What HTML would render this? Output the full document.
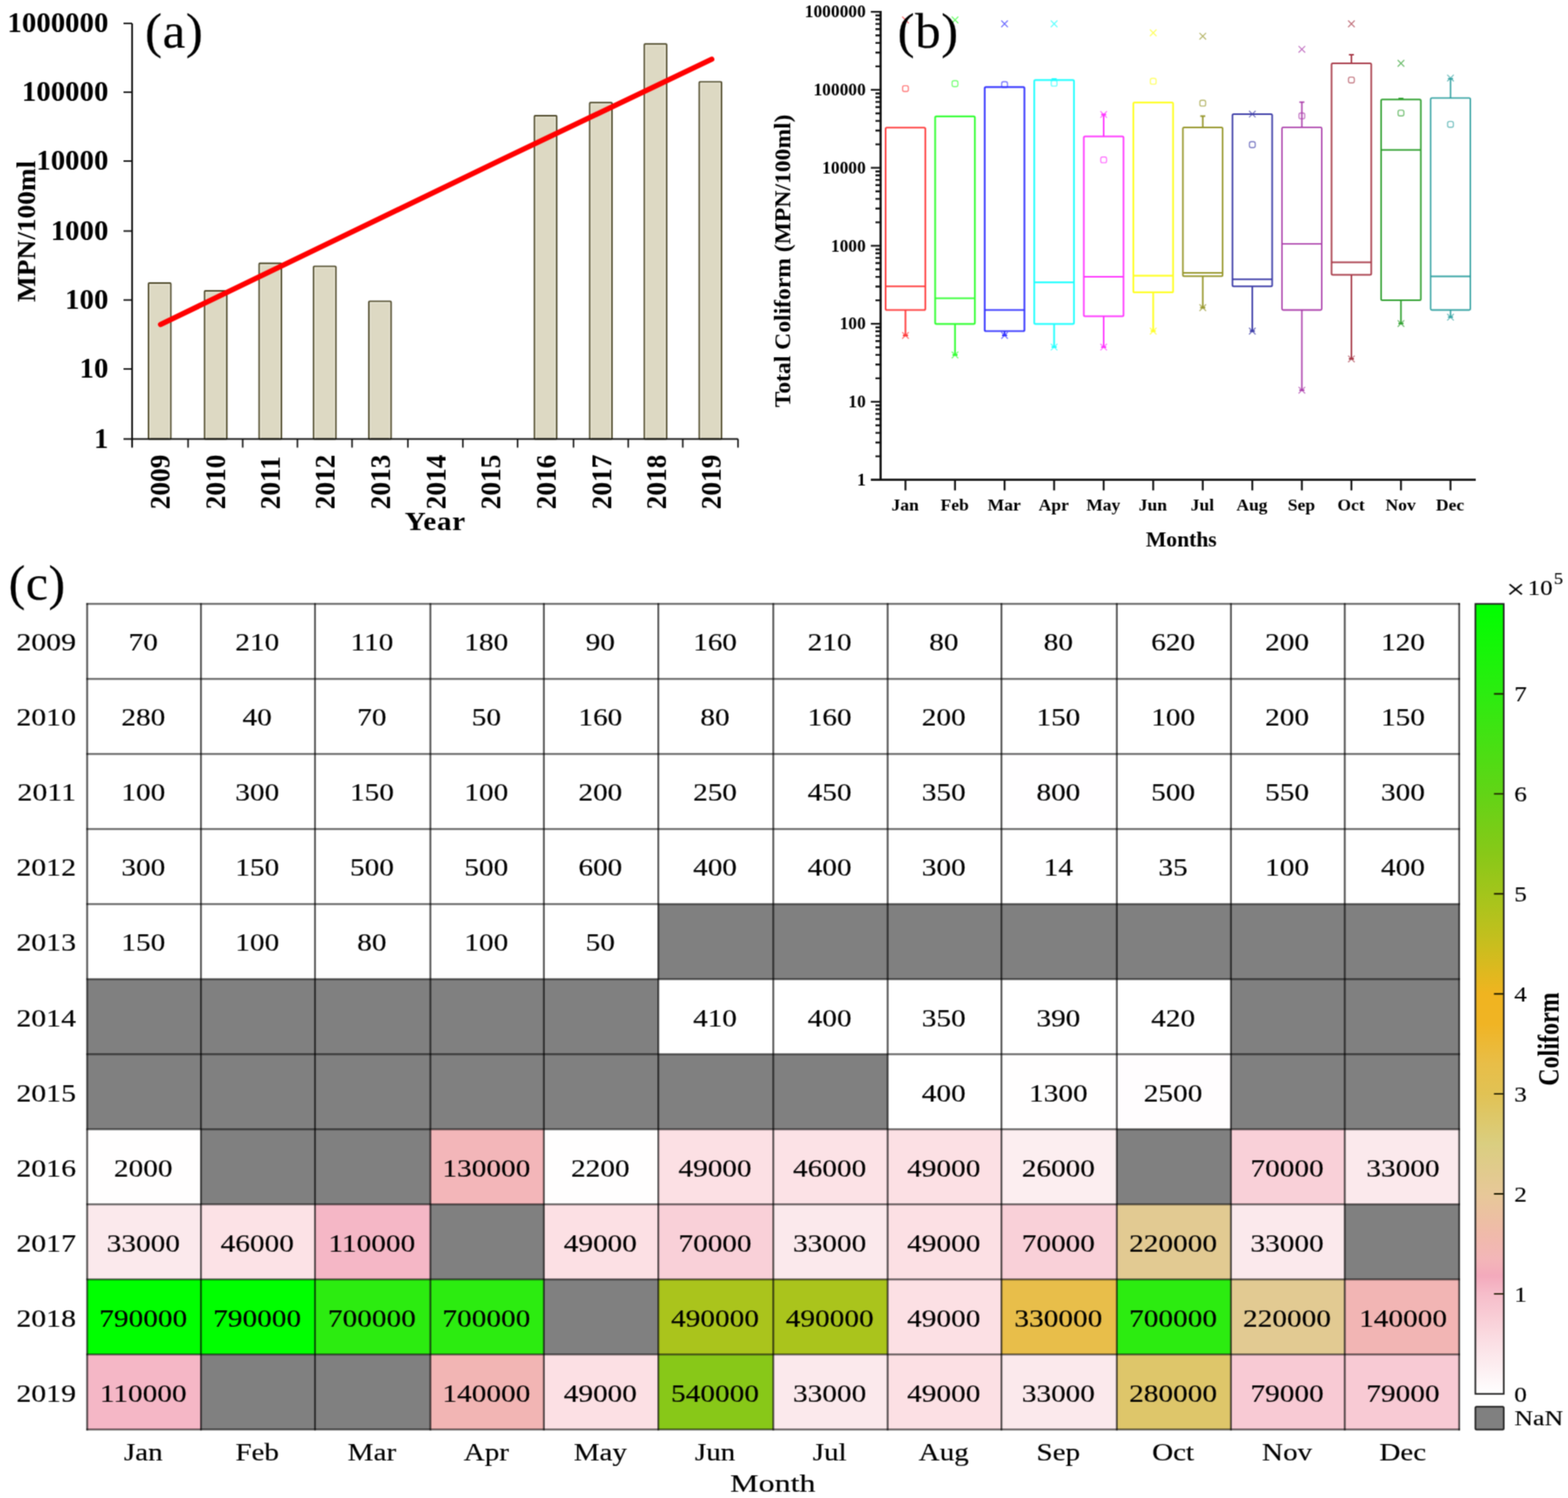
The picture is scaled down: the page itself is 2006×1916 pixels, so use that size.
<!DOCTYPE html>
<html lang="en">
<head>
<meta charset="utf-8">
<title>Total coliform figure</title>
<style>
html,body{margin:0;padding:0;background:#fff;}
body{width:2006px;height:1916px;overflow:hidden;}
svg{display:block;font-family:'Liberation Serif', 'DejaVu Serif', serif;}
</style>
</head>
<body>
<svg width="2006" height="1916" viewBox="0 0 2006 1916">
<defs><filter id="soft" x="0" y="0" width="2006" height="1916" filterUnits="userSpaceOnUse" color-interpolation-filters="sRGB"><feConvolveMatrix order="3" kernelMatrix="0.0400 0.1200 0.0400 0.1200 0.3600 0.1200 0.0400 0.1200 0.0400" edgeMode="duplicate" preserveAlpha="true"/></filter></defs>
<rect x="0" y="0" width="2006" height="1916" fill="#ffffff"/>
<g filter="url(#soft)">
<rect x="0" y="0" width="2006" height="1916" fill="#ffffff"/>
<g id="panel-a">
<rect x="190.00" y="362.00" width="28.50" height="199.50" rx="1" fill="#ddd9c3" stroke="#4d4828" stroke-width="1.9"/>
<rect x="191.80" y="363.80" width="24.90" height="197.70" fill="none" stroke="#ebe8d8" stroke-width="1.2"/>
<rect x="261.70" y="372.00" width="28.50" height="189.50" rx="1" fill="#ddd9c3" stroke="#4d4828" stroke-width="1.9"/>
<rect x="263.50" y="373.80" width="24.90" height="187.70" fill="none" stroke="#ebe8d8" stroke-width="1.2"/>
<rect x="331.55" y="336.80" width="28.50" height="224.70" rx="1" fill="#ddd9c3" stroke="#4d4828" stroke-width="1.9"/>
<rect x="333.35" y="338.60" width="24.90" height="222.90" fill="none" stroke="#ebe8d8" stroke-width="1.2"/>
<rect x="401.20" y="340.60" width="28.50" height="220.90" rx="1" fill="#ddd9c3" stroke="#4d4828" stroke-width="1.9"/>
<rect x="403.00" y="342.40" width="24.90" height="219.10" fill="none" stroke="#ebe8d8" stroke-width="1.2"/>
<rect x="471.85" y="385.40" width="28.50" height="176.10" rx="1" fill="#ddd9c3" stroke="#4d4828" stroke-width="1.9"/>
<rect x="473.65" y="387.20" width="24.90" height="174.30" fill="none" stroke="#ebe8d8" stroke-width="1.2"/>
<rect x="683.70" y="148.00" width="28.50" height="413.50" rx="1" fill="#ddd9c3" stroke="#4d4828" stroke-width="1.9"/>
<rect x="685.50" y="149.80" width="24.90" height="411.70" fill="none" stroke="#ebe8d8" stroke-width="1.2"/>
<rect x="754.45" y="131.30" width="28.50" height="430.20" rx="1" fill="#ddd9c3" stroke="#4d4828" stroke-width="1.9"/>
<rect x="756.25" y="133.10" width="24.90" height="428.40" fill="none" stroke="#ebe8d8" stroke-width="1.2"/>
<rect x="824.35" y="56.30" width="28.50" height="505.20" rx="1" fill="#ddd9c3" stroke="#4d4828" stroke-width="1.9"/>
<rect x="826.15" y="58.10" width="24.90" height="503.40" fill="none" stroke="#ebe8d8" stroke-width="1.2"/>
<rect x="894.60" y="104.60" width="28.50" height="456.90" rx="1" fill="#ddd9c3" stroke="#4d4828" stroke-width="1.9"/>
<rect x="896.40" y="106.40" width="24.90" height="455.10" fill="none" stroke="#ebe8d8" stroke-width="1.2"/>
<path d="M169.00 30.00 V572.50" stroke="#0c0c0c" stroke-width="2.2" fill="none"/>
<path d="M158.00 561.50 H944.20" stroke="#0c0c0c" stroke-width="2.2" fill="none"/>
<path d="M158.00 29.90 H169.00" stroke="#0c0c0c" stroke-width="1.9" fill="none"/>
<text transform="translate(138.60,41.30) scale(1.0240,1)" font-size="36" font-weight="bold" text-anchor="end" fill="#000">1000000</text>
<path d="M158.00 117.90 H169.00" stroke="#0c0c0c" stroke-width="1.9" fill="none"/>
<text transform="translate(138.60,129.30) scale(1.0240,1)" font-size="36" font-weight="bold" text-anchor="end" fill="#000">100000</text>
<path d="M158.00 206.00 H169.00" stroke="#0c0c0c" stroke-width="1.9" fill="none"/>
<text transform="translate(138.60,217.40) scale(1.0240,1)" font-size="36" font-weight="bold" text-anchor="end" fill="#000">10000</text>
<path d="M158.00 295.50 H169.00" stroke="#0c0c0c" stroke-width="1.9" fill="none"/>
<text transform="translate(138.60,306.90) scale(1.0240,1)" font-size="36" font-weight="bold" text-anchor="end" fill="#000">1000</text>
<path d="M158.00 383.70 H169.00" stroke="#0c0c0c" stroke-width="1.9" fill="none"/>
<text transform="translate(138.60,395.10) scale(1.0240,1)" font-size="36" font-weight="bold" text-anchor="end" fill="#000">100</text>
<path d="M158.00 471.90 H169.00" stroke="#0c0c0c" stroke-width="1.9" fill="none"/>
<text transform="translate(138.60,483.30) scale(1.0240,1)" font-size="36" font-weight="bold" text-anchor="end" fill="#000">10</text>
<text transform="translate(138.60,572.90) scale(1.0240,1)" font-size="36" font-weight="bold" text-anchor="end" fill="#000">1</text>
<path d="M240.60 561.50 V572.50" stroke="#0c0c0c" stroke-width="1.9" fill="none"/>
<path d="M310.50 561.50 V572.50" stroke="#0c0c0c" stroke-width="1.9" fill="none"/>
<path d="M380.50 561.50 V572.50" stroke="#0c0c0c" stroke-width="1.9" fill="none"/>
<path d="M450.40 561.50 V572.50" stroke="#0c0c0c" stroke-width="1.9" fill="none"/>
<path d="M521.80 561.50 V572.50" stroke="#0c0c0c" stroke-width="1.9" fill="none"/>
<path d="M592.20 561.50 V572.50" stroke="#0c0c0c" stroke-width="1.9" fill="none"/>
<path d="M662.20 561.50 V572.50" stroke="#0c0c0c" stroke-width="1.9" fill="none"/>
<path d="M733.70 561.50 V572.50" stroke="#0c0c0c" stroke-width="1.9" fill="none"/>
<path d="M803.70 561.50 V572.50" stroke="#0c0c0c" stroke-width="1.9" fill="none"/>
<path d="M873.50 561.50 V572.50" stroke="#0c0c0c" stroke-width="1.9" fill="none"/>
<path d="M944.20 561.50 V572.50" stroke="#0c0c0c" stroke-width="1.9" fill="none"/>
<text transform="translate(216.55,651.60) rotate(-90)" font-size="35" font-weight="bold" text-anchor="start" fill="#000">2009</text>
<text transform="translate(288.38,651.60) rotate(-90)" font-size="35" font-weight="bold" text-anchor="start" fill="#000">2010</text>
<text transform="translate(358.36,651.60) rotate(-90)" font-size="35" font-weight="bold" text-anchor="start" fill="#000">2011</text>
<text transform="translate(428.14,651.60) rotate(-90)" font-size="35" font-weight="bold" text-anchor="start" fill="#000">2012</text>
<text transform="translate(498.92,651.60) rotate(-90)" font-size="35" font-weight="bold" text-anchor="start" fill="#000">2013</text>
<text transform="translate(569.95,651.60) rotate(-90)" font-size="35" font-weight="bold" text-anchor="start" fill="#000">2014</text>
<text transform="translate(640.28,651.60) rotate(-90)" font-size="35" font-weight="bold" text-anchor="start" fill="#000">2015</text>
<text transform="translate(711.16,651.60) rotate(-90)" font-size="35" font-weight="bold" text-anchor="start" fill="#000">2016</text>
<text transform="translate(782.04,651.60) rotate(-90)" font-size="35" font-weight="bold" text-anchor="start" fill="#000">2017</text>
<text transform="translate(852.07,651.60) rotate(-90)" font-size="35" font-weight="bold" text-anchor="start" fill="#000">2018</text>
<text transform="translate(922.45,651.60) rotate(-90)" font-size="35" font-weight="bold" text-anchor="start" fill="#000">2019</text>
<path d="M205.5 415 L420 311.3 L640 205 L910.5 75.8" stroke="#ff0000" stroke-width="6.8" stroke-linecap="round" stroke-linejoin="round" fill="none"/>
<text transform="translate(556.80,677.60) scale(1.0900,1)" font-size="34.3" font-weight="bold" text-anchor="middle" fill="#000" letter-spacing="0.8">Year</text>
<text transform="translate(44.90,295.90) scale(0.9700,1) rotate(-90)" font-size="35" font-weight="bold" text-anchor="middle" fill="#000">MPN/100ml</text>
<text transform="translate(185.60,60.60) scale(1.0300,1)" font-size="63.5" text-anchor="start" fill="#000" stroke="#000" stroke-width="0.2" letter-spacing="0.6">(a)</text>
</g>
<g id="panel-b">
<g stroke="#ff3b3b" fill="none" stroke-width="2.1">
<rect x="1133.00" y="163.20" width="50.80" height="233.30" rx="1.5"/>
<path d="M1133.00 366.20 H1183.80"/>
<path d="M1158.40 396.50 V429.10 M1155.20 429.10 H1161.60"/>
<path d="M1154.20 21.30 L1162.60 29.70 M1154.20 29.70 L1162.60 21.30" stroke-width="1.3" stroke-opacity="0.75"/>
<path d="M1154.20 424.90 L1162.60 433.30 M1154.20 433.30 L1162.60 424.90" stroke-width="1.3" stroke-opacity="0.75"/>
<rect x="1154.70" y="109.60" width="7.4" height="7.4" rx="2.2" stroke-width="1.4" stroke-opacity="0.7"/>
</g>
<g stroke="#33ff33" fill="none" stroke-width="2.2">
<rect x="1196.39" y="148.90" width="50.80" height="265.40" rx="1.5"/>
<path d="M1196.39 381.50 H1247.19"/>
<path d="M1221.79 414.30 V454.00 M1218.59 454.00 H1224.99"/>
<path d="M1217.59 21.30 L1225.99 29.70 M1217.59 29.70 L1225.99 21.30" stroke-width="1.3" stroke-opacity="0.75"/>
<path d="M1217.59 449.80 L1225.99 458.20 M1217.59 458.20 L1225.99 449.80" stroke-width="1.3" stroke-opacity="0.75"/>
<rect x="1218.09" y="103.30" width="7.4" height="7.4" rx="2.2" stroke-width="1.4" stroke-opacity="0.7"/>
</g>
<g stroke="#3535ff" fill="none" stroke-width="2.2">
<rect x="1259.78" y="111.30" width="50.80" height="312.20" rx="1.5"/>
<path d="M1259.78 396.50 H1310.58"/>
<path d="M1285.18 423.50 V429.00 M1281.98 429.00 H1288.38"/>
<path d="M1280.98 26.30 L1289.38 34.70 M1280.98 34.70 L1289.38 26.30" stroke-width="1.3" stroke-opacity="0.75"/>
<path d="M1280.98 424.80 L1289.38 433.20 M1280.98 433.20 L1289.38 424.80" stroke-width="1.3" stroke-opacity="0.75"/>
<rect x="1281.48" y="104.50" width="7.4" height="7.4" rx="2.2" stroke-width="1.4" stroke-opacity="0.7"/>
</g>
<g stroke="#22ffff" fill="none" stroke-width="2.2">
<rect x="1323.17" y="102.30" width="50.80" height="312.00" rx="1.5"/>
<path d="M1323.17 361.10 H1373.97"/>
<path d="M1348.57 414.30 V443.90 M1345.37 443.90 H1351.77"/>
<path d="M1348.57 102.30 V101.00 M1345.37 101.00 H1351.77"/>
<path d="M1344.37 26.30 L1352.77 34.70 M1344.37 34.70 L1352.77 26.30" stroke-width="1.3" stroke-opacity="0.75"/>
<path d="M1344.37 439.70 L1352.77 448.10 M1344.37 448.10 L1352.77 439.70" stroke-width="1.3" stroke-opacity="0.75"/>
<rect x="1344.87" y="102.70" width="7.4" height="7.4" rx="2.2" stroke-width="1.4" stroke-opacity="0.7"/>
</g>
<g stroke="#ff33ff" fill="none" stroke-width="2.0">
<rect x="1386.56" y="174.40" width="50.80" height="230.00" rx="1.5"/>
<path d="M1386.56 354.00 H1437.36"/>
<path d="M1411.96 404.40 V443.90 M1408.76 443.90 H1415.16"/>
<path d="M1411.96 174.40 V146.40 M1408.76 146.40 H1415.16"/>
<path d="M1407.76 142.20 L1416.16 150.60 M1407.76 150.60 L1416.16 142.20" stroke-width="1.3" stroke-opacity="0.75"/>
<path d="M1407.76 439.70 L1416.16 448.10 M1407.76 448.10 L1416.16 439.70" stroke-width="1.3" stroke-opacity="0.75"/>
<rect x="1408.26" y="200.70" width="7.4" height="7.4" rx="2.2" stroke-width="1.4" stroke-opacity="0.7"/>
</g>
<g stroke="#ffff22" fill="none" stroke-width="2.2">
<rect x="1449.95" y="131.10" width="50.80" height="242.80" rx="1.5"/>
<path d="M1449.95 352.70 H1500.75"/>
<path d="M1475.35 373.90 V423.50 M1472.15 423.50 H1478.55"/>
<path d="M1471.15 37.80 L1479.55 46.20 M1471.15 46.20 L1479.55 37.80" stroke-width="1.3" stroke-opacity="0.75"/>
<path d="M1471.15 419.30 L1479.55 427.70 M1471.15 427.70 L1479.55 419.30" stroke-width="1.3" stroke-opacity="0.75"/>
<rect x="1471.65" y="100.20" width="7.4" height="7.4" rx="2.2" stroke-width="1.4" stroke-opacity="0.7"/>
</g>
<g stroke="#96962a" fill="none" stroke-width="2.0">
<rect x="1513.34" y="162.90" width="50.80" height="190.30" rx="1.5"/>
<path d="M1513.34 348.90 H1564.14"/>
<path d="M1538.74 353.20 V393.50 M1535.54 393.50 H1541.94"/>
<path d="M1538.74 162.90 V148.40 M1535.54 148.40 H1541.94"/>
<path d="M1534.54 42.10 L1542.94 50.50 M1534.54 50.50 L1542.94 42.10" stroke-width="1.3" stroke-opacity="0.75"/>
<path d="M1534.54 389.30 L1542.94 397.70 M1534.54 397.70 L1542.94 389.30" stroke-width="1.3" stroke-opacity="0.75"/>
<rect x="1535.04" y="128.20" width="7.4" height="7.4" rx="2.2" stroke-width="1.4" stroke-opacity="0.7"/>
</g>
<g stroke="#3a3aa6" fill="none" stroke-width="2.0">
<rect x="1576.73" y="145.90" width="50.80" height="220.30" rx="1.5"/>
<path d="M1576.73 357.30 H1627.53"/>
<path d="M1602.13 366.20 V423.50 M1598.93 423.50 H1605.33"/>
<path d="M1597.93 141.70 L1606.33 150.10 M1597.93 150.10 L1606.33 141.70" stroke-width="1.3" stroke-opacity="0.75"/>
<path d="M1597.93 419.30 L1606.33 427.70 M1597.93 427.70 L1606.33 419.30" stroke-width="1.3" stroke-opacity="0.75"/>
<rect x="1598.43" y="181.30" width="7.4" height="7.4" rx="2.2" stroke-width="1.4" stroke-opacity="0.7"/>
</g>
<g stroke="#a93aa9" fill="none" stroke-width="1.8">
<rect x="1640.12" y="162.90" width="50.80" height="233.60" rx="1.5"/>
<path d="M1640.12 311.90 H1690.92"/>
<path d="M1665.52 396.50 V499.10 M1662.32 499.10 H1668.72"/>
<path d="M1665.52 162.90 V130.60 M1662.32 130.60 H1668.72"/>
<path d="M1661.32 58.90 L1669.72 67.30 M1661.32 67.30 L1669.72 58.90" stroke-width="1.3" stroke-opacity="0.75"/>
<path d="M1661.32 494.90 L1669.72 503.30 M1661.32 503.30 L1669.72 494.90" stroke-width="1.3" stroke-opacity="0.75"/>
<rect x="1661.82" y="144.50" width="7.4" height="7.4" rx="2.2" stroke-width="1.4" stroke-opacity="0.7"/>
</g>
<g stroke="#a83a48" fill="none" stroke-width="2.0">
<rect x="1703.51" y="81.00" width="50.80" height="270.60" rx="1.5"/>
<path d="M1703.51 335.50 H1754.31"/>
<path d="M1728.91 351.60 V459.10 M1725.71 459.10 H1732.11"/>
<path d="M1728.91 81.00 V70.00 M1725.71 70.00 H1732.11"/>
<path d="M1724.71 26.30 L1733.11 34.70 M1724.71 34.70 L1733.11 26.30" stroke-width="1.3" stroke-opacity="0.75"/>
<path d="M1724.71 454.90 L1733.11 463.30 M1724.71 463.30 L1733.11 454.90" stroke-width="1.3" stroke-opacity="0.75"/>
<rect x="1725.21" y="98.60" width="7.4" height="7.4" rx="2.2" stroke-width="1.4" stroke-opacity="0.7"/>
</g>
<g stroke="#2fa02f" fill="none" stroke-width="2.0">
<rect x="1766.90" y="127.30" width="50.80" height="256.70" rx="1.5"/>
<path d="M1766.90 191.70 H1817.70"/>
<path d="M1792.30 384.00 V413.80 M1789.10 413.80 H1795.50"/>
<path d="M1792.30 127.30 V126.00 M1789.10 126.00 H1795.50"/>
<path d="M1788.10 76.80 L1796.50 85.20 M1788.10 85.20 L1796.50 76.80" stroke-width="1.3" stroke-opacity="0.75"/>
<path d="M1788.10 409.60 L1796.50 418.00 M1788.10 418.00 L1796.50 409.60" stroke-width="1.3" stroke-opacity="0.75"/>
<rect x="1788.60" y="140.90" width="7.4" height="7.4" rx="2.2" stroke-width="1.4" stroke-opacity="0.7"/>
</g>
<g stroke="#2fa0a0" fill="none" stroke-width="1.8">
<rect x="1830.29" y="125.30" width="50.80" height="271.20" rx="1.5"/>
<path d="M1830.29 353.50 H1881.09"/>
<path d="M1855.69 396.50 V405.70 M1852.49 405.70 H1858.89"/>
<path d="M1855.69 125.30 V100.60 M1852.49 100.60 H1858.89"/>
<path d="M1851.49 95.60 L1859.89 104.00 M1851.49 104.00 L1859.89 95.60" stroke-width="1.3" stroke-opacity="0.75"/>
<path d="M1851.49 401.50 L1859.89 409.90 M1851.49 409.90 L1859.89 401.50" stroke-width="1.3" stroke-opacity="0.75"/>
<rect x="1851.99" y="155.40" width="7.4" height="7.4" rx="2.2" stroke-width="1.4" stroke-opacity="0.7"/>
</g>
<path d="M1126.60 13.95 V613.65" stroke="#111" stroke-width="2.8" fill="none"/>
<path d="M1114.10 613.65 H1888.00" stroke="#111" stroke-width="2.8" fill="none"/>
<text transform="translate(1107.60,620.95) scale(0.9700,1)" font-size="23" font-weight="bold" text-anchor="end" fill="#000">1</text>
<text transform="translate(1107.60,521.20) scale(0.9700,1)" font-size="23" font-weight="bold" text-anchor="end" fill="#000">10</text>
<text transform="translate(1107.60,421.45) scale(0.9700,1)" font-size="23" font-weight="bold" text-anchor="end" fill="#000">100</text>
<text transform="translate(1107.60,321.70) scale(0.9700,1)" font-size="23" font-weight="bold" text-anchor="end" fill="#000">1000</text>
<text transform="translate(1107.60,221.95) scale(0.9700,1)" font-size="23" font-weight="bold" text-anchor="end" fill="#000">10000</text>
<text transform="translate(1107.60,122.20) scale(0.9700,1)" font-size="23" font-weight="bold" text-anchor="end" fill="#000">100000</text>
<text transform="translate(1107.60,22.45) scale(0.9700,1)" font-size="23" font-weight="bold" text-anchor="end" fill="#000">1000000</text>
<path d="M1120.00 583.62 H1126.60 M1120.00 566.06 H1126.60 M1120.00 553.59 H1126.60 M1120.00 543.93 H1126.60 M1120.00 536.03 H1126.60 M1120.00 529.35 H1126.60 M1120.00 523.57 H1126.60 M1120.00 518.46 H1126.60 M1114.10 513.90 H1126.60 M1120.00 483.87 H1126.60 M1120.00 466.31 H1126.60 M1120.00 453.84 H1126.60 M1120.00 444.18 H1126.60 M1120.00 436.28 H1126.60 M1120.00 429.60 H1126.60 M1120.00 423.82 H1126.60 M1120.00 418.71 H1126.60 M1114.10 414.15 H1126.60 M1120.00 384.12 H1126.60 M1120.00 366.56 H1126.60 M1120.00 354.09 H1126.60 M1120.00 344.43 H1126.60 M1120.00 336.53 H1126.60 M1120.00 329.85 H1126.60 M1120.00 324.07 H1126.60 M1120.00 318.96 H1126.60 M1114.10 314.40 H1126.60 M1120.00 284.37 H1126.60 M1120.00 266.81 H1126.60 M1120.00 254.34 H1126.60 M1120.00 244.68 H1126.60 M1120.00 236.78 H1126.60 M1120.00 230.10 H1126.60 M1120.00 224.32 H1126.60 M1120.00 219.21 H1126.60 M1114.10 214.65 H1126.60 M1120.00 184.62 H1126.60 M1120.00 167.06 H1126.60 M1120.00 154.59 H1126.60 M1120.00 144.93 H1126.60 M1120.00 137.03 H1126.60 M1120.00 130.35 H1126.60 M1120.00 124.57 H1126.60 M1120.00 119.46 H1126.60 M1114.10 114.90 H1126.60 M1120.00 84.87 H1126.60 M1120.00 67.31 H1126.60 M1120.00 54.84 H1126.60 M1120.00 45.18 H1126.60 M1120.00 37.28 H1126.60 M1120.00 30.60 H1126.60 M1120.00 24.82 H1126.60 M1120.00 19.71 H1126.60 M1114.10 15.15 H1126.60" stroke="#111" stroke-width="2.4" fill="none"/>
<text transform="translate(1157.90,652.60) scale(1.0200,1)" font-size="22" font-weight="bold" text-anchor="middle" fill="#000">Jan</text>
<text transform="translate(1221.29,652.60) scale(1.0200,1)" font-size="22" font-weight="bold" text-anchor="middle" fill="#000">Feb</text>
<text transform="translate(1284.68,652.60) scale(1.0200,1)" font-size="22" font-weight="bold" text-anchor="middle" fill="#000">Mar</text>
<text transform="translate(1348.07,652.60) scale(1.0200,1)" font-size="22" font-weight="bold" text-anchor="middle" fill="#000">Apr</text>
<text transform="translate(1411.46,652.60) scale(1.0200,1)" font-size="22" font-weight="bold" text-anchor="middle" fill="#000">May</text>
<text transform="translate(1474.85,652.60) scale(1.0200,1)" font-size="22" font-weight="bold" text-anchor="middle" fill="#000">Jun</text>
<text transform="translate(1538.24,652.60) scale(1.0200,1)" font-size="22" font-weight="bold" text-anchor="middle" fill="#000">Jul</text>
<text transform="translate(1601.63,652.60) scale(1.0200,1)" font-size="22" font-weight="bold" text-anchor="middle" fill="#000">Aug</text>
<text transform="translate(1665.02,652.60) scale(1.0200,1)" font-size="22" font-weight="bold" text-anchor="middle" fill="#000">Sep</text>
<text transform="translate(1728.41,652.60) scale(1.0200,1)" font-size="22" font-weight="bold" text-anchor="middle" fill="#000">Oct</text>
<text transform="translate(1791.80,652.60) scale(1.0200,1)" font-size="22" font-weight="bold" text-anchor="middle" fill="#000">Nov</text>
<text transform="translate(1855.19,652.60) scale(1.0200,1)" font-size="22" font-weight="bold" text-anchor="middle" fill="#000">Dec</text>
<path d="M1158.40 613.65 V627.15 M1221.79 613.65 V627.15 M1285.18 613.65 V627.15 M1348.57 613.65 V627.15 M1411.96 613.65 V627.15 M1475.35 613.65 V627.15 M1538.74 613.65 V627.15 M1602.13 613.65 V627.15 M1665.52 613.65 V627.15 M1728.91 613.65 V627.15 M1792.30 613.65 V627.15 M1855.69 613.65 V627.15" stroke="#111" stroke-width="2.4" fill="none"/>
<text transform="translate(1511.30,699.00) scale(1.0130,1)" font-size="27.3" font-weight="bold" text-anchor="middle" fill="#000">Months</text>
<text transform="translate(1011.00,333.70) scale(0.9900,1) rotate(-90)" font-size="30.2" font-weight="bold" text-anchor="middle" fill="#000">Total Coliform (MPN/100ml)</text>
<text transform="translate(1148.30,61.20) scale(1.0300,1)" font-size="63.5" text-anchor="start" fill="#000" stroke="#000" stroke-width="0.2" letter-spacing="0.6">(b)</text>
</g>
<g id="panel-c">
<rect x="1281.20" y="964.40" width="147.60" height="96.00" fill="#fffeff"/>
<rect x="842.20" y="1156.40" width="147.10" height="96.00" fill="#808080"/>
<rect x="989.30" y="1156.40" width="146.30" height="96.00" fill="#808080"/>
<rect x="1135.60" y="1156.40" width="145.60" height="96.00" fill="#808080"/>
<rect x="1281.20" y="1156.40" width="147.60" height="96.00" fill="#808080"/>
<rect x="1428.80" y="1156.40" width="146.00" height="96.00" fill="#808080"/>
<rect x="1574.80" y="1156.40" width="145.60" height="96.00" fill="#808080"/>
<rect x="1720.40" y="1156.40" width="146.40" height="96.00" fill="#808080"/>
<rect x="111.50" y="1252.40" width="145.60" height="96.00" fill="#808080"/>
<rect x="257.10" y="1252.40" width="145.90" height="96.00" fill="#808080"/>
<rect x="403.00" y="1252.40" width="147.60" height="96.00" fill="#808080"/>
<rect x="550.60" y="1252.40" width="145.20" height="96.00" fill="#808080"/>
<rect x="695.80" y="1252.40" width="146.40" height="96.00" fill="#808080"/>
<rect x="1574.80" y="1252.40" width="145.60" height="96.00" fill="#808080"/>
<rect x="1720.40" y="1252.40" width="146.40" height="96.00" fill="#808080"/>
<rect x="111.50" y="1348.40" width="145.60" height="96.00" fill="#808080"/>
<rect x="257.10" y="1348.40" width="145.90" height="96.00" fill="#808080"/>
<rect x="403.00" y="1348.40" width="147.60" height="96.00" fill="#808080"/>
<rect x="550.60" y="1348.40" width="145.20" height="96.00" fill="#808080"/>
<rect x="695.80" y="1348.40" width="146.40" height="96.00" fill="#808080"/>
<rect x="842.20" y="1348.40" width="147.10" height="96.00" fill="#808080"/>
<rect x="989.30" y="1348.40" width="146.30" height="96.00" fill="#808080"/>
<rect x="1281.20" y="1348.40" width="147.60" height="96.00" fill="#fffefe"/>
<rect x="1428.80" y="1348.40" width="146.00" height="96.00" fill="#fffdfe"/>
<rect x="1574.80" y="1348.40" width="145.60" height="96.00" fill="#808080"/>
<rect x="1720.40" y="1348.40" width="146.40" height="96.00" fill="#808080"/>
<rect x="111.50" y="1444.40" width="145.60" height="96.00" fill="#fffefe"/>
<rect x="257.10" y="1444.40" width="145.90" height="96.00" fill="#808080"/>
<rect x="403.00" y="1444.40" width="147.60" height="96.00" fill="#808080"/>
<rect x="550.60" y="1444.40" width="145.20" height="96.00" fill="#f3b6b9"/>
<rect x="695.80" y="1444.40" width="146.40" height="96.00" fill="#fffefe"/>
<rect x="842.20" y="1444.40" width="147.10" height="96.00" fill="#fce0e4"/>
<rect x="989.30" y="1444.40" width="146.30" height="96.00" fill="#fce2e6"/>
<rect x="1135.60" y="1444.40" width="145.60" height="96.00" fill="#fce0e4"/>
<rect x="1281.20" y="1444.40" width="147.60" height="96.00" fill="#fceef0"/>
<rect x="1428.80" y="1444.40" width="146.00" height="96.00" fill="#808080"/>
<rect x="1574.80" y="1444.40" width="145.60" height="96.00" fill="#f9d0d8"/>
<rect x="1720.40" y="1444.40" width="146.40" height="96.00" fill="#fbe9ec"/>
<rect x="111.50" y="1540.40" width="145.60" height="96.00" fill="#fbe9ec"/>
<rect x="257.10" y="1540.40" width="145.90" height="96.00" fill="#fce2e6"/>
<rect x="403.00" y="1540.40" width="147.60" height="96.00" fill="#f5b7c6"/>
<rect x="550.60" y="1540.40" width="145.20" height="96.00" fill="#808080"/>
<rect x="695.80" y="1540.40" width="146.40" height="96.00" fill="#fce0e4"/>
<rect x="842.20" y="1540.40" width="147.10" height="96.00" fill="#f9d0d8"/>
<rect x="989.30" y="1540.40" width="146.30" height="96.00" fill="#fbe9ec"/>
<rect x="1135.60" y="1540.40" width="145.60" height="96.00" fill="#fce0e4"/>
<rect x="1281.20" y="1540.40" width="147.60" height="96.00" fill="#f9d0d8"/>
<rect x="1428.80" y="1540.40" width="146.00" height="96.00" fill="#e2ca92"/>
<rect x="1574.80" y="1540.40" width="145.60" height="96.00" fill="#fbe9ec"/>
<rect x="1720.40" y="1540.40" width="146.40" height="96.00" fill="#808080"/>
<rect x="111.50" y="1636.40" width="145.60" height="96.00" fill="#00ff00"/>
<rect x="257.10" y="1636.40" width="145.90" height="96.00" fill="#00ff00"/>
<rect x="403.00" y="1636.40" width="147.60" height="96.00" fill="#2cec10"/>
<rect x="550.60" y="1636.40" width="145.20" height="96.00" fill="#2cec10"/>
<rect x="695.80" y="1636.40" width="146.40" height="96.00" fill="#808080"/>
<rect x="842.20" y="1636.40" width="147.10" height="96.00" fill="#aac41c"/>
<rect x="989.30" y="1636.40" width="146.30" height="96.00" fill="#aac41c"/>
<rect x="1135.60" y="1636.40" width="145.60" height="96.00" fill="#fce0e4"/>
<rect x="1281.20" y="1636.40" width="147.60" height="96.00" fill="#e8be4a"/>
<rect x="1428.80" y="1636.40" width="146.00" height="96.00" fill="#2cec10"/>
<rect x="1574.80" y="1636.40" width="145.60" height="96.00" fill="#e2ca92"/>
<rect x="1720.40" y="1636.40" width="146.40" height="96.00" fill="#f2b5b4"/>
<rect x="111.50" y="1732.40" width="145.60" height="96.00" fill="#f5b7c6"/>
<rect x="257.10" y="1732.40" width="145.90" height="96.00" fill="#808080"/>
<rect x="403.00" y="1732.40" width="147.60" height="96.00" fill="#808080"/>
<rect x="550.60" y="1732.40" width="145.20" height="96.00" fill="#f2b5b4"/>
<rect x="695.80" y="1732.40" width="146.40" height="96.00" fill="#fce0e4"/>
<rect x="842.20" y="1732.40" width="147.10" height="96.00" fill="#88c818"/>
<rect x="989.30" y="1732.40" width="146.30" height="96.00" fill="#fbe9ec"/>
<rect x="1135.60" y="1732.40" width="145.60" height="96.00" fill="#fce0e4"/>
<rect x="1281.20" y="1732.40" width="147.60" height="96.00" fill="#fbe9ec"/>
<rect x="1428.80" y="1732.40" width="146.00" height="96.00" fill="#dec66a"/>
<rect x="1574.80" y="1732.40" width="145.60" height="96.00" fill="#f8cad4"/>
<rect x="1720.40" y="1732.40" width="146.40" height="96.00" fill="#f8cad4"/>
<path d="M110.50 772.40 H1867.80 M110.50 868.40 H1867.80 M110.50 964.40 H1867.80 M110.50 1060.40 H1867.80 M110.50 1156.40 H1867.80 M110.50 1252.40 H1867.80 M110.50 1348.40 H1867.80 M110.50 1444.40 H1867.80 M110.50 1540.40 H1867.80 M110.50 1636.40 H1867.80 M110.50 1732.40 H1867.80 M110.50 1828.40 H1867.80" fill="none" stroke="#000" stroke-opacity="0.62" stroke-width="2.3"/>
<path d="M111.50 771.40 V1829.40 M257.10 771.40 V1829.40 M403.00 771.40 V1829.40 M550.60 771.40 V1829.40 M695.80 771.40 V1829.40 M842.20 771.40 V1829.40 M989.30 771.40 V1829.40 M1135.60 771.40 V1829.40 M1281.20 771.40 V1829.40 M1428.80 771.40 V1829.40 M1574.80 771.40 V1829.40 M1720.40 771.40 V1829.40 M1866.80 771.40 V1829.40" fill="none" stroke="#000" stroke-opacity="0.68" stroke-width="2.3"/>
<text transform="translate(97.20,831.90) scale(1.1700,1)" font-size="32.6" text-anchor="end" fill="#000" stroke="#000" stroke-width="0.2">2009</text>
<text transform="translate(183.30,831.90) scale(1.1500,1)" font-size="32.6" text-anchor="middle" fill="#000" stroke="#000" stroke-width="0.2">70</text>
<text transform="translate(329.05,831.90) scale(1.1500,1)" font-size="32.6" text-anchor="middle" fill="#000" stroke="#000" stroke-width="0.2">210</text>
<text transform="translate(475.80,831.90) scale(1.1500,1)" font-size="32.6" text-anchor="middle" fill="#000" stroke="#000" stroke-width="0.2">110</text>
<text transform="translate(622.20,831.90) scale(1.1500,1)" font-size="32.6" text-anchor="middle" fill="#000" stroke="#000" stroke-width="0.2">180</text>
<text transform="translate(768.00,831.90) scale(1.1500,1)" font-size="32.6" text-anchor="middle" fill="#000" stroke="#000" stroke-width="0.2">90</text>
<text transform="translate(914.75,831.90) scale(1.1500,1)" font-size="32.6" text-anchor="middle" fill="#000" stroke="#000" stroke-width="0.2">160</text>
<text transform="translate(1061.45,831.90) scale(1.1500,1)" font-size="32.6" text-anchor="middle" fill="#000" stroke="#000" stroke-width="0.2">210</text>
<text transform="translate(1207.40,831.90) scale(1.1500,1)" font-size="32.6" text-anchor="middle" fill="#000" stroke="#000" stroke-width="0.2">80</text>
<text transform="translate(1354.00,831.90) scale(1.1500,1)" font-size="32.6" text-anchor="middle" fill="#000" stroke="#000" stroke-width="0.2">80</text>
<text transform="translate(1500.80,831.90) scale(1.1500,1)" font-size="32.6" text-anchor="middle" fill="#000" stroke="#000" stroke-width="0.2">620</text>
<text transform="translate(1646.60,831.90) scale(1.1500,1)" font-size="32.6" text-anchor="middle" fill="#000" stroke="#000" stroke-width="0.2">200</text>
<text transform="translate(1794.90,831.90) scale(1.1500,1)" font-size="32.6" text-anchor="middle" fill="#000" stroke="#000" stroke-width="0.2">120</text>
<text transform="translate(97.20,928.03) scale(1.1700,1)" font-size="32.6" text-anchor="end" fill="#000" stroke="#000" stroke-width="0.2">2010</text>
<text transform="translate(183.30,928.03) scale(1.1500,1)" font-size="32.6" text-anchor="middle" fill="#000" stroke="#000" stroke-width="0.2">280</text>
<text transform="translate(329.05,928.03) scale(1.1500,1)" font-size="32.6" text-anchor="middle" fill="#000" stroke="#000" stroke-width="0.2">40</text>
<text transform="translate(475.80,928.03) scale(1.1500,1)" font-size="32.6" text-anchor="middle" fill="#000" stroke="#000" stroke-width="0.2">70</text>
<text transform="translate(622.20,928.03) scale(1.1500,1)" font-size="32.6" text-anchor="middle" fill="#000" stroke="#000" stroke-width="0.2">50</text>
<text transform="translate(768.00,928.03) scale(1.1500,1)" font-size="32.6" text-anchor="middle" fill="#000" stroke="#000" stroke-width="0.2">160</text>
<text transform="translate(914.75,928.03) scale(1.1500,1)" font-size="32.6" text-anchor="middle" fill="#000" stroke="#000" stroke-width="0.2">80</text>
<text transform="translate(1061.45,928.03) scale(1.1500,1)" font-size="32.6" text-anchor="middle" fill="#000" stroke="#000" stroke-width="0.2">160</text>
<text transform="translate(1207.40,928.03) scale(1.1500,1)" font-size="32.6" text-anchor="middle" fill="#000" stroke="#000" stroke-width="0.2">200</text>
<text transform="translate(1354.00,928.03) scale(1.1500,1)" font-size="32.6" text-anchor="middle" fill="#000" stroke="#000" stroke-width="0.2">150</text>
<text transform="translate(1500.80,928.03) scale(1.1500,1)" font-size="32.6" text-anchor="middle" fill="#000" stroke="#000" stroke-width="0.2">100</text>
<text transform="translate(1646.60,928.03) scale(1.1500,1)" font-size="32.6" text-anchor="middle" fill="#000" stroke="#000" stroke-width="0.2">200</text>
<text transform="translate(1794.90,928.03) scale(1.1500,1)" font-size="32.6" text-anchor="middle" fill="#000" stroke="#000" stroke-width="0.2">150</text>
<text transform="translate(97.20,1024.16) scale(1.1700,1)" font-size="32.6" text-anchor="end" fill="#000" stroke="#000" stroke-width="0.2">2011</text>
<text transform="translate(183.30,1024.16) scale(1.1500,1)" font-size="32.6" text-anchor="middle" fill="#000" stroke="#000" stroke-width="0.2">100</text>
<text transform="translate(329.05,1024.16) scale(1.1500,1)" font-size="32.6" text-anchor="middle" fill="#000" stroke="#000" stroke-width="0.2">300</text>
<text transform="translate(475.80,1024.16) scale(1.1500,1)" font-size="32.6" text-anchor="middle" fill="#000" stroke="#000" stroke-width="0.2">150</text>
<text transform="translate(622.20,1024.16) scale(1.1500,1)" font-size="32.6" text-anchor="middle" fill="#000" stroke="#000" stroke-width="0.2">100</text>
<text transform="translate(768.00,1024.16) scale(1.1500,1)" font-size="32.6" text-anchor="middle" fill="#000" stroke="#000" stroke-width="0.2">200</text>
<text transform="translate(914.75,1024.16) scale(1.1500,1)" font-size="32.6" text-anchor="middle" fill="#000" stroke="#000" stroke-width="0.2">250</text>
<text transform="translate(1061.45,1024.16) scale(1.1500,1)" font-size="32.6" text-anchor="middle" fill="#000" stroke="#000" stroke-width="0.2">450</text>
<text transform="translate(1207.40,1024.16) scale(1.1500,1)" font-size="32.6" text-anchor="middle" fill="#000" stroke="#000" stroke-width="0.2">350</text>
<text transform="translate(1354.00,1024.16) scale(1.1500,1)" font-size="32.6" text-anchor="middle" fill="#000" stroke="#000" stroke-width="0.2">800</text>
<text transform="translate(1500.80,1024.16) scale(1.1500,1)" font-size="32.6" text-anchor="middle" fill="#000" stroke="#000" stroke-width="0.2">500</text>
<text transform="translate(1646.60,1024.16) scale(1.1500,1)" font-size="32.6" text-anchor="middle" fill="#000" stroke="#000" stroke-width="0.2">550</text>
<text transform="translate(1794.90,1024.16) scale(1.1500,1)" font-size="32.6" text-anchor="middle" fill="#000" stroke="#000" stroke-width="0.2">300</text>
<text transform="translate(97.20,1120.29) scale(1.1700,1)" font-size="32.6" text-anchor="end" fill="#000" stroke="#000" stroke-width="0.2">2012</text>
<text transform="translate(183.30,1120.29) scale(1.1500,1)" font-size="32.6" text-anchor="middle" fill="#000" stroke="#000" stroke-width="0.2">300</text>
<text transform="translate(329.05,1120.29) scale(1.1500,1)" font-size="32.6" text-anchor="middle" fill="#000" stroke="#000" stroke-width="0.2">150</text>
<text transform="translate(475.80,1120.29) scale(1.1500,1)" font-size="32.6" text-anchor="middle" fill="#000" stroke="#000" stroke-width="0.2">500</text>
<text transform="translate(622.20,1120.29) scale(1.1500,1)" font-size="32.6" text-anchor="middle" fill="#000" stroke="#000" stroke-width="0.2">500</text>
<text transform="translate(768.00,1120.29) scale(1.1500,1)" font-size="32.6" text-anchor="middle" fill="#000" stroke="#000" stroke-width="0.2">600</text>
<text transform="translate(914.75,1120.29) scale(1.1500,1)" font-size="32.6" text-anchor="middle" fill="#000" stroke="#000" stroke-width="0.2">400</text>
<text transform="translate(1061.45,1120.29) scale(1.1500,1)" font-size="32.6" text-anchor="middle" fill="#000" stroke="#000" stroke-width="0.2">400</text>
<text transform="translate(1207.40,1120.29) scale(1.1500,1)" font-size="32.6" text-anchor="middle" fill="#000" stroke="#000" stroke-width="0.2">300</text>
<text transform="translate(1354.00,1120.29) scale(1.1500,1)" font-size="32.6" text-anchor="middle" fill="#000" stroke="#000" stroke-width="0.2">14</text>
<text transform="translate(1500.80,1120.29) scale(1.1500,1)" font-size="32.6" text-anchor="middle" fill="#000" stroke="#000" stroke-width="0.2">35</text>
<text transform="translate(1646.60,1120.29) scale(1.1500,1)" font-size="32.6" text-anchor="middle" fill="#000" stroke="#000" stroke-width="0.2">100</text>
<text transform="translate(1794.90,1120.29) scale(1.1500,1)" font-size="32.6" text-anchor="middle" fill="#000" stroke="#000" stroke-width="0.2">400</text>
<text transform="translate(97.20,1216.42) scale(1.1700,1)" font-size="32.6" text-anchor="end" fill="#000" stroke="#000" stroke-width="0.2">2013</text>
<text transform="translate(183.30,1216.42) scale(1.1500,1)" font-size="32.6" text-anchor="middle" fill="#000" stroke="#000" stroke-width="0.2">150</text>
<text transform="translate(329.05,1216.42) scale(1.1500,1)" font-size="32.6" text-anchor="middle" fill="#000" stroke="#000" stroke-width="0.2">100</text>
<text transform="translate(475.80,1216.42) scale(1.1500,1)" font-size="32.6" text-anchor="middle" fill="#000" stroke="#000" stroke-width="0.2">80</text>
<text transform="translate(622.20,1216.42) scale(1.1500,1)" font-size="32.6" text-anchor="middle" fill="#000" stroke="#000" stroke-width="0.2">100</text>
<text transform="translate(768.00,1216.42) scale(1.1500,1)" font-size="32.6" text-anchor="middle" fill="#000" stroke="#000" stroke-width="0.2">50</text>
<text transform="translate(97.20,1312.55) scale(1.1700,1)" font-size="32.6" text-anchor="end" fill="#000" stroke="#000" stroke-width="0.2">2014</text>
<text transform="translate(914.75,1312.55) scale(1.1500,1)" font-size="32.6" text-anchor="middle" fill="#000" stroke="#000" stroke-width="0.2">410</text>
<text transform="translate(1061.45,1312.55) scale(1.1500,1)" font-size="32.6" text-anchor="middle" fill="#000" stroke="#000" stroke-width="0.2">400</text>
<text transform="translate(1207.40,1312.55) scale(1.1500,1)" font-size="32.6" text-anchor="middle" fill="#000" stroke="#000" stroke-width="0.2">350</text>
<text transform="translate(1354.00,1312.55) scale(1.1500,1)" font-size="32.6" text-anchor="middle" fill="#000" stroke="#000" stroke-width="0.2">390</text>
<text transform="translate(1500.80,1312.55) scale(1.1500,1)" font-size="32.6" text-anchor="middle" fill="#000" stroke="#000" stroke-width="0.2">420</text>
<text transform="translate(97.20,1408.68) scale(1.1700,1)" font-size="32.6" text-anchor="end" fill="#000" stroke="#000" stroke-width="0.2">2015</text>
<text transform="translate(1207.40,1408.68) scale(1.1500,1)" font-size="32.6" text-anchor="middle" fill="#000" stroke="#000" stroke-width="0.2">400</text>
<text transform="translate(1354.00,1408.68) scale(1.1500,1)" font-size="32.6" text-anchor="middle" fill="#000" stroke="#000" stroke-width="0.2">1300</text>
<text transform="translate(1500.80,1408.68) scale(1.1500,1)" font-size="32.6" text-anchor="middle" fill="#000" stroke="#000" stroke-width="0.2">2500</text>
<text transform="translate(97.20,1504.81) scale(1.1700,1)" font-size="32.6" text-anchor="end" fill="#000" stroke="#000" stroke-width="0.2">2016</text>
<text transform="translate(183.30,1504.81) scale(1.1500,1)" font-size="32.6" text-anchor="middle" fill="#000" stroke="#000" stroke-width="0.2">2000</text>
<text transform="translate(622.20,1504.81) scale(1.1500,1)" font-size="32.6" text-anchor="middle" fill="#000" stroke="#000" stroke-width="0.2">130000</text>
<text transform="translate(768.00,1504.81) scale(1.1500,1)" font-size="32.6" text-anchor="middle" fill="#000" stroke="#000" stroke-width="0.2">2200</text>
<text transform="translate(914.75,1504.81) scale(1.1500,1)" font-size="32.6" text-anchor="middle" fill="#000" stroke="#000" stroke-width="0.2">49000</text>
<text transform="translate(1061.45,1504.81) scale(1.1500,1)" font-size="32.6" text-anchor="middle" fill="#000" stroke="#000" stroke-width="0.2">46000</text>
<text transform="translate(1207.40,1504.81) scale(1.1500,1)" font-size="32.6" text-anchor="middle" fill="#000" stroke="#000" stroke-width="0.2">49000</text>
<text transform="translate(1354.00,1504.81) scale(1.1500,1)" font-size="32.6" text-anchor="middle" fill="#000" stroke="#000" stroke-width="0.2">26000</text>
<text transform="translate(1646.60,1504.81) scale(1.1500,1)" font-size="32.6" text-anchor="middle" fill="#000" stroke="#000" stroke-width="0.2">70000</text>
<text transform="translate(1794.90,1504.81) scale(1.1500,1)" font-size="32.6" text-anchor="middle" fill="#000" stroke="#000" stroke-width="0.2">33000</text>
<text transform="translate(97.20,1600.94) scale(1.1700,1)" font-size="32.6" text-anchor="end" fill="#000" stroke="#000" stroke-width="0.2">2017</text>
<text transform="translate(183.30,1600.94) scale(1.1500,1)" font-size="32.6" text-anchor="middle" fill="#000" stroke="#000" stroke-width="0.2">33000</text>
<text transform="translate(329.05,1600.94) scale(1.1500,1)" font-size="32.6" text-anchor="middle" fill="#000" stroke="#000" stroke-width="0.2">46000</text>
<text transform="translate(475.80,1600.94) scale(1.1500,1)" font-size="32.6" text-anchor="middle" fill="#000" stroke="#000" stroke-width="0.2">110000</text>
<text transform="translate(768.00,1600.94) scale(1.1500,1)" font-size="32.6" text-anchor="middle" fill="#000" stroke="#000" stroke-width="0.2">49000</text>
<text transform="translate(914.75,1600.94) scale(1.1500,1)" font-size="32.6" text-anchor="middle" fill="#000" stroke="#000" stroke-width="0.2">70000</text>
<text transform="translate(1061.45,1600.94) scale(1.1500,1)" font-size="32.6" text-anchor="middle" fill="#000" stroke="#000" stroke-width="0.2">33000</text>
<text transform="translate(1207.40,1600.94) scale(1.1500,1)" font-size="32.6" text-anchor="middle" fill="#000" stroke="#000" stroke-width="0.2">49000</text>
<text transform="translate(1354.00,1600.94) scale(1.1500,1)" font-size="32.6" text-anchor="middle" fill="#000" stroke="#000" stroke-width="0.2">70000</text>
<text transform="translate(1500.80,1600.94) scale(1.1500,1)" font-size="32.6" text-anchor="middle" fill="#000" stroke="#000" stroke-width="0.2">220000</text>
<text transform="translate(1646.60,1600.94) scale(1.1500,1)" font-size="32.6" text-anchor="middle" fill="#000" stroke="#000" stroke-width="0.2">33000</text>
<text transform="translate(97.20,1697.07) scale(1.1700,1)" font-size="32.6" text-anchor="end" fill="#000" stroke="#000" stroke-width="0.2">2018</text>
<text transform="translate(183.30,1697.07) scale(1.1500,1)" font-size="32.6" text-anchor="middle" fill="#000" stroke="#000" stroke-width="0.2">790000</text>
<text transform="translate(329.05,1697.07) scale(1.1500,1)" font-size="32.6" text-anchor="middle" fill="#000" stroke="#000" stroke-width="0.2">790000</text>
<text transform="translate(475.80,1697.07) scale(1.1500,1)" font-size="32.6" text-anchor="middle" fill="#000" stroke="#000" stroke-width="0.2">700000</text>
<text transform="translate(622.20,1697.07) scale(1.1500,1)" font-size="32.6" text-anchor="middle" fill="#000" stroke="#000" stroke-width="0.2">700000</text>
<text transform="translate(914.75,1697.07) scale(1.1500,1)" font-size="32.6" text-anchor="middle" fill="#000" stroke="#000" stroke-width="0.2">490000</text>
<text transform="translate(1061.45,1697.07) scale(1.1500,1)" font-size="32.6" text-anchor="middle" fill="#000" stroke="#000" stroke-width="0.2">490000</text>
<text transform="translate(1207.40,1697.07) scale(1.1500,1)" font-size="32.6" text-anchor="middle" fill="#000" stroke="#000" stroke-width="0.2">49000</text>
<text transform="translate(1354.00,1697.07) scale(1.1500,1)" font-size="32.6" text-anchor="middle" fill="#000" stroke="#000" stroke-width="0.2">330000</text>
<text transform="translate(1500.80,1697.07) scale(1.1500,1)" font-size="32.6" text-anchor="middle" fill="#000" stroke="#000" stroke-width="0.2">700000</text>
<text transform="translate(1646.60,1697.07) scale(1.1500,1)" font-size="32.6" text-anchor="middle" fill="#000" stroke="#000" stroke-width="0.2">220000</text>
<text transform="translate(1794.90,1697.07) scale(1.1500,1)" font-size="32.6" text-anchor="middle" fill="#000" stroke="#000" stroke-width="0.2">140000</text>
<text transform="translate(97.20,1793.20) scale(1.1700,1)" font-size="32.6" text-anchor="end" fill="#000" stroke="#000" stroke-width="0.2">2019</text>
<text transform="translate(183.30,1793.20) scale(1.1500,1)" font-size="32.6" text-anchor="middle" fill="#000" stroke="#000" stroke-width="0.2">110000</text>
<text transform="translate(622.20,1793.20) scale(1.1500,1)" font-size="32.6" text-anchor="middle" fill="#000" stroke="#000" stroke-width="0.2">140000</text>
<text transform="translate(768.00,1793.20) scale(1.1500,1)" font-size="32.6" text-anchor="middle" fill="#000" stroke="#000" stroke-width="0.2">49000</text>
<text transform="translate(914.75,1793.20) scale(1.1500,1)" font-size="32.6" text-anchor="middle" fill="#000" stroke="#000" stroke-width="0.2">540000</text>
<text transform="translate(1061.45,1793.20) scale(1.1500,1)" font-size="32.6" text-anchor="middle" fill="#000" stroke="#000" stroke-width="0.2">33000</text>
<text transform="translate(1207.40,1793.20) scale(1.1500,1)" font-size="32.6" text-anchor="middle" fill="#000" stroke="#000" stroke-width="0.2">49000</text>
<text transform="translate(1354.00,1793.20) scale(1.1500,1)" font-size="32.6" text-anchor="middle" fill="#000" stroke="#000" stroke-width="0.2">33000</text>
<text transform="translate(1500.80,1793.20) scale(1.1500,1)" font-size="32.6" text-anchor="middle" fill="#000" stroke="#000" stroke-width="0.2">280000</text>
<text transform="translate(1646.60,1793.20) scale(1.1500,1)" font-size="32.6" text-anchor="middle" fill="#000" stroke="#000" stroke-width="0.2">79000</text>
<text transform="translate(1794.90,1793.20) scale(1.1500,1)" font-size="32.6" text-anchor="middle" fill="#000" stroke="#000" stroke-width="0.2">79000</text>
<text transform="translate(183.30,1868.20) scale(1.2000,1)" font-size="31" text-anchor="middle" fill="#000" stroke="#000" stroke-width="0.2">Jan</text>
<text transform="translate(329.05,1868.20) scale(1.2000,1)" font-size="31" text-anchor="middle" fill="#000" stroke="#000" stroke-width="0.2">Feb</text>
<text transform="translate(475.80,1868.20) scale(1.2000,1)" font-size="31" text-anchor="middle" fill="#000" stroke="#000" stroke-width="0.2">Mar</text>
<text transform="translate(622.20,1868.20) scale(1.2000,1)" font-size="31" text-anchor="middle" fill="#000" stroke="#000" stroke-width="0.2">Apr</text>
<text transform="translate(768.00,1868.20) scale(1.2000,1)" font-size="31" text-anchor="middle" fill="#000" stroke="#000" stroke-width="0.2">May</text>
<text transform="translate(914.75,1868.20) scale(1.2000,1)" font-size="31" text-anchor="middle" fill="#000" stroke="#000" stroke-width="0.2">Jun</text>
<text transform="translate(1061.45,1868.20) scale(1.2000,1)" font-size="31" text-anchor="middle" fill="#000" stroke="#000" stroke-width="0.2">Jul</text>
<text transform="translate(1207.40,1868.20) scale(1.2000,1)" font-size="31" text-anchor="middle" fill="#000" stroke="#000" stroke-width="0.2">Aug</text>
<text transform="translate(1354.00,1868.20) scale(1.2000,1)" font-size="31" text-anchor="middle" fill="#000" stroke="#000" stroke-width="0.2">Sep</text>
<text transform="translate(1500.80,1868.20) scale(1.2000,1)" font-size="31" text-anchor="middle" fill="#000" stroke="#000" stroke-width="0.2">Oct</text>
<text transform="translate(1646.60,1868.20) scale(1.2000,1)" font-size="31" text-anchor="middle" fill="#000" stroke="#000" stroke-width="0.2">Nov</text>
<text transform="translate(1794.60,1868.20) scale(1.2000,1)" font-size="31" text-anchor="middle" fill="#000" stroke="#000" stroke-width="0.2">Dec</text>
<text transform="translate(988.70,1907.80) scale(1.2800,1)" font-size="32" text-anchor="middle" fill="#000" stroke="#000" stroke-width="0.2">Month</text>
<text transform="translate(11.00,767.20) scale(1.0100,1)" font-size="63.5" text-anchor="start" fill="#000" stroke="#000" stroke-width="0.2" letter-spacing="0.6">(c)</text>
<defs><linearGradient id="cb" x1="0" y1="1" x2="0" y2="0"><stop offset="0.0000" stop-color="#ffffff"/><stop offset="0.0380" stop-color="#fcecef"/><stop offset="0.0633" stop-color="#fbe0e5"/><stop offset="0.1013" stop-color="#f8cbd4"/><stop offset="0.1266" stop-color="#f6bdca"/><stop offset="0.1494" stop-color="#f3aabc"/><stop offset="0.1709" stop-color="#f3b6b8"/><stop offset="0.2025" stop-color="#f0baaa"/><stop offset="0.2532" stop-color="#e7c898"/><stop offset="0.3165" stop-color="#dace80"/><stop offset="0.3797" stop-color="#e1c254"/><stop offset="0.4177" stop-color="#e8be48"/><stop offset="0.4684" stop-color="#f0b424"/><stop offset="0.5063" stop-color="#f0b420"/><stop offset="0.5696" stop-color="#c8be1e"/><stop offset="0.6203" stop-color="#aac41c"/><stop offset="0.6835" stop-color="#88c818"/><stop offset="0.7595" stop-color="#62d416"/><stop offset="0.8861" stop-color="#2cec10"/><stop offset="1.0000" stop-color="#00ff00"/></linearGradient></defs>
<rect x="1887.50" y="772.40" width="36.30" height="1010.40" fill="url(#cb)" stroke="#1c1c1c" stroke-width="2"/>
<text transform="translate(1937.30,1792.70) scale(1.1500,1)" font-size="28" text-anchor="start" fill="#000" stroke="#000" stroke-width="0.2">0</text>
<text transform="translate(1937.30,1664.80) scale(1.1500,1)" font-size="28" text-anchor="start" fill="#000" stroke="#000" stroke-width="0.2">1</text>
<text transform="translate(1937.30,1536.90) scale(1.1500,1)" font-size="28" text-anchor="start" fill="#000" stroke="#000" stroke-width="0.2">2</text>
<text transform="translate(1937.30,1409.00) scale(1.1500,1)" font-size="28" text-anchor="start" fill="#000" stroke="#000" stroke-width="0.2">3</text>
<text transform="translate(1937.30,1281.11) scale(1.1500,1)" font-size="28" text-anchor="start" fill="#000" stroke="#000" stroke-width="0.2">4</text>
<text transform="translate(1937.30,1153.21) scale(1.1500,1)" font-size="28" text-anchor="start" fill="#000" stroke="#000" stroke-width="0.2">5</text>
<text transform="translate(1937.30,1025.31) scale(1.1500,1)" font-size="28" text-anchor="start" fill="#000" stroke="#000" stroke-width="0.2">6</text>
<text transform="translate(1937.30,897.41) scale(1.1500,1)" font-size="28" text-anchor="start" fill="#000" stroke="#000" stroke-width="0.2">7</text>
<path d="M1911.30 1654.90 H1923.80 M1911.30 1527.00 H1923.80 M1911.30 1399.10 H1923.80 M1911.30 1271.21 H1923.80 M1911.30 1143.31 H1923.80 M1911.30 1015.41 H1923.80 M1911.30 887.51 H1923.80" stroke="#1c1a00" stroke-width="1.9" fill="none"/>
<rect x="1887.50" y="1799.3" width="36.30" height="29.3" rx="1.5" fill="#808080" stroke="#1c1c1c" stroke-width="2"/>
<text transform="translate(1937.50,1822.50) scale(1.2200,1)" font-size="27" text-anchor="start" fill="#000" stroke="#000" stroke-width="0.2">NaN</text>
<text transform="translate(1927.30,765.40) scale(1.2700,1)" font-size="33" text-anchor="start" fill="#000" stroke="#000" stroke-width="0.2">×</text>
<text transform="translate(1954.60,760.80) scale(1.1500,1)" font-size="27.5" text-anchor="start" fill="#000" stroke="#000" stroke-width="0.2">10</text>
<text transform="translate(1988.00,747.20) scale(1.1500,1)" font-size="20.5" text-anchor="start" fill="#000" stroke="#000" stroke-width="0.2">5</text>
<text transform="translate(1994.30,1329.00) scale(1.2450,1) rotate(-90)" font-size="30.7" font-weight="bold" text-anchor="middle" fill="#000">Coliform</text>
</g>
</g>
</svg>
</body>
</html>
